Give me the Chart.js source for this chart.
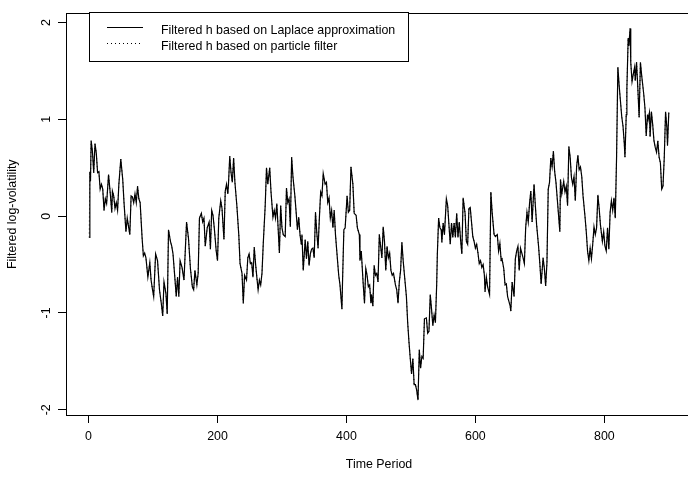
<!DOCTYPE html>
<html>
<head>
<meta charset="utf-8">
<script src="https://cdn.jsdelivr.net/npm/chart.js@4/dist/chart.umd.min.js"></script>
<style>
html, body { margin: 0; padding: 0; background: #fff; overflow: hidden; }
#wrap { width: 700px; height: 481px; }
</style>
</head>
<body>
<div id="wrap"><canvas id="chart" width="700" height="481"></canvas></div>
<script>
// time index of each read vertex
const timePeriod = [
    1, 2, 3, 4, 6, 8, 10, 12, 14, 16,
    18, 20, 22, 24, 26, 28, 31, 34, 36, 37,
    39, 41, 43, 45, 47, 50, 53, 55, 58, 60,
    64, 66, 68, 70, 72, 74, 76, 78, 80, 83,
    85, 87, 89, 92, 95, 97, 99, 101, 104, 107,
    110, 113, 115, 117, 120, 122, 124, 127, 129, 131,
    134, 136, 138, 140, 142, 145, 148, 152, 155, 158,
    161, 163, 165, 168, 170, 172, 175, 177, 179, 181,
    184, 187, 189, 191, 193, 195, 198, 200, 202, 205,
    207, 210, 212, 214, 216, 217, 219, 221, 223, 225,
    227, 230, 233, 235, 238, 240, 242, 245, 247, 249,
    251, 253, 255, 257, 259, 261, 263, 265, 267, 269,
    271, 274, 276, 278, 281, 283, 286, 288, 290, 292,
    294, 296, 298, 300, 302, 305, 307, 309, 311, 313,
    315, 317, 320, 322, 324, 326, 328, 330, 331, 333,
    336, 338, 340, 342, 344, 346, 348, 350, 352, 354,
    356, 358, 360, 362, 364, 367, 369, 371, 373, 375,
    377, 379, 381, 383, 385, 388, 390, 393, 394, 396,
    398, 401, 403, 405, 407, 410, 412, 415, 417, 420,
    421, 423, 426, 428, 430, 432, 434, 436, 438, 439,
    441, 443, 445, 447, 449, 451, 453, 455, 457, 459,
    461, 463, 465, 467, 469, 471, 473, 476, 478, 480,
    482, 484, 486, 488, 490, 493, 495, 497, 499, 501,
    503, 505, 507, 509, 511, 513, 515, 517, 519, 521,
    524, 526, 528, 530, 532, 534, 536, 538, 540, 541,
    543, 545, 547, 548, 550, 552, 555, 557, 559, 561,
    563, 565, 567, 569, 571, 573, 575, 577, 579, 581,
    584, 586, 588, 590, 592, 594, 596, 598, 600, 602,
    604, 606, 608, 610, 612, 614, 615, 617, 619, 622,
    624, 626, 629, 631, 634, 636, 638, 640, 641, 644,
    646, 648, 650, 652, 654, 655, 657, 660, 662, 664,
    666, 668, 670, 672, 674, 676, 678, 680, 682, 684,
    686, 688, 691, 693, 695, 698, 700, 702, 705, 707,
    709, 711, 713, 715, 717, 719, 721, 723, 725, 727,
    729, 731, 732, 734, 737, 739, 741, 743, 745, 747,
    749, 751, 753, 755, 757, 759, 761, 763, 765, 767,
    770, 772, 774, 776, 778, 780, 782, 784, 786, 788,
    790, 792, 794, 797, 799, 801, 803, 805, 807, 809,
    811, 813, 815, 817, 819, 821, 823, 825, 827, 829,
    831, 832, 834, 835, 837, 838, 840, 841, 843, 845,
    847, 848, 850, 852, 854, 856, 858, 861, 863, 865,
    867, 868, 870, 871, 873, 875, 877, 879, 881, 883,
    885, 887, 889, 891, 893, 895, 897, 898, 900
];

// filtered h, Laplace approximation
const laplaceH = [
    -0.22, 0.46, 0.36, 0.78, 0.67, 0.45, 0.75, 0.65, 0.45, 0.46,
    0.28, 0.33, 0.28, 0.06, 0.18, 0.13, 0.43, 0.21, 0.04, 0.26,
    0.21, 0.08, 0.14, 0.06, 0.33, 0.59, 0.38, 0.14, -0.16, -0.02,
    -0.19, 0.21, 0.20, 0.14, 0.23, 0.14, 0.31, 0.18, 0.14, -0.22,
    -0.41, -0.38, -0.43, -0.63, -0.48, -0.66, -0.75, -0.83, -0.39, -0.46,
    -0.76, -0.91, -1.03, -0.68, -0.80, -1.01, -0.14, -0.26, -0.31, -0.39,
    -0.65, -0.83, -0.63, -0.83, -0.46, -0.53, -0.66, -0.06, -0.23, -0.54,
    -0.73, -0.76, -0.56, -0.71, -0.59, -0.02, 0.03, -0.06, -0.02, -0.31,
    -0.12, -0.06, -0.34, 0.06, 0.01, -0.12, -0.36, -0.46, -0.02, 0.16,
    0.08, -0.24, 0.26, 0.33, 0.23, 0.33, 0.62, 0.45, 0.35, 0.60,
    0.35, 0.11, -0.19, -0.49, -0.59, -0.90, -0.61, -0.66, -0.43, -0.39,
    -0.49, -0.48, -0.63, -0.32, -0.49, -0.63, -0.76, -0.66, -0.71, -0.59,
    -0.28, 0.11, 0.50, 0.33, 0.50, 0.25, -0.01, 0.06, -0.02, 0.13,
    -0.12, -0.38, 0.11, -0.12, -0.19, -0.21, 0.29, 0.14, 0.18, -0.11,
    0.61, 0.41, 0.21, 0.04, -0.14, -0.01, -0.19, -0.29, -0.19, -0.56,
    -0.24, -0.44, -0.26, -0.51, -0.39, -0.34, -0.33, -0.43, 0.04, -0.17,
    -0.33, -0.02, 0.25, 0.21, 0.44, 0.33, 0.35, 0.14, 0.19, -0.02,
    0.06, -0.12, 0.06, -0.19, -0.36, -0.61, -0.71, -0.96, -0.66, -0.14,
    -0.12, 0.21, 0.04, 0.06, 0.51, 0.33, 0.03, 0.01, -0.12, -0.19,
    -0.46, -0.36, -0.70, -0.90, -0.54, -0.61, -0.73, -0.71, -0.90, -0.81,
    -0.93, -0.51, -0.61, -0.59, -0.68, -0.19, -0.31, -0.43, -0.11, -0.26,
    -0.56, -0.31, -0.43, -0.38, -0.56, -0.61, -0.59, -0.71, -0.76, -0.90,
    -0.68, -0.56, -0.27, -0.46, -0.61, -0.83, -1.10, -1.30, -1.47, -1.63,
    -1.47, -1.74, -1.74, -1.80, -1.90, -1.38, -1.57, -1.45, -1.47, -1.06,
    -1.05, -1.21, -1.19, -0.81, -0.96, -1.13, -1.02, -1.10, -0.70, -0.39,
    -0.02, -0.12, -0.14, -0.27, -0.07, -0.19, 0.18, 0.11, -0.09, -0.29,
    -0.07, -0.22, -0.07, -0.22, 0.03, -0.22, -0.06, -0.24, -0.39, 0.19,
    0.03, -0.26, -0.29, 0.08, 0.09, -0.06, -0.21, -0.26, -0.33, -0.29,
    -0.38, -0.49, -0.46, -0.53, -0.50, -0.61, -0.78, -0.63, -0.73, -0.81,
    0.25, 0.04, -0.19, -0.21, -0.19, -0.36, -0.28, -0.46, -0.43, -0.54,
    -0.71, -0.70, -0.83, -0.88, -0.93, -0.98, -0.68, -0.83, -0.44, -0.36,
    -0.31, -0.56, -0.33, -0.38, -0.43, -0.49, -0.12, 0.04, -0.06, 0.13,
    0.26, -0.06, 0.33, 0.11, -0.09, -0.31, -0.49, -0.70, -0.43, -0.54,
    -0.72, -0.48, 0.28, 0.35, 0.60, 0.51, 0.67, 0.46, 0.35, 0.18,
    0.01, -0.16, 0.38, 0.23, 0.36, 0.25, 0.31, 0.11, 0.72, 0.61,
    0.40, 0.33, 0.41, 0.16, 0.51, 0.63, 0.48, 0.51, 0.41, 0.21,
    0.00, -0.16, -0.36, -0.46, -0.33, -0.44, -0.29, -0.11, -0.19, -0.12,
    0.22, 0.08, -0.09, -0.26, -0.16, -0.31, -0.36, -0.12, -0.34, 0.04,
    0.16, 0.06, 0.19, -0.02, 0.61, 1.54, 1.35, 1.19, 1.03, 0.93,
    0.75, 0.61, 1.05, 1.32, 1.84, 1.76, 1.94, 1.59, 1.39, 1.47,
    1.54, 1.40, 1.59, 1.32, 1.02, 1.59, 1.45, 1.27, 1.12, 0.83,
    1.05, 1.00, 1.07, 0.82, 1.08, 0.95, 0.78, 0.71, 0.66, 0.78,
    0.61, 0.55, 0.28, 0.31, 0.61, 1.08, 0.92, 0.73, 1.07
];

// the particle filter curve sits on top of the Laplace one in the picture
const particleH = laplaceH;

const seriesLabels = [
    'Filtered h based on Laplace approximation',
    'Filtered h based on particle filter'
];
const xTickValues = [0, 200, 400, 600, 800];
const yTickValues = [-2, -1, 0, 1, 2];

const baseFont = { family: '"Liberation Sans", Arial, Helvetica, sans-serif', size: 12.4 };

function toPoints(ys) {
    return timePeriod.map((t, i) => ({ x: t, y: ys[i] }));
}

// R style box round the plot region plus the legend in the top left
const rFrame = {
    id: 'rFrame',
    afterDraw(c) {
        const ctx = c.ctx;
        const a = c.chartArea;
        ctx.save();
        ctx.strokeStyle = '#000';
        ctx.lineWidth = 1;
        ctx.strokeRect(Math.round(a.left) + 0.5, Math.round(a.top) + 0.5,
            Math.round(a.right - a.left), Math.round(a.bottom - a.top));

        // legend
        ctx.fillStyle = '#fff';
        ctx.fillRect(89, 12, 319, 49);
        ctx.strokeRect(89.5, 12.5, 319, 49);
        ctx.font = baseFont.size + 'px ' + baseFont.family;
        ctx.textBaseline = 'middle';
        ctx.textAlign = 'left';
        c.data.datasets.forEach((ds, i) => {
            const y = 27 + i * 15.7;
            ctx.beginPath();
            ctx.setLineDash(ds.borderDash || []);
            ctx.lineWidth = ds.borderWidth;
            ctx.moveTo(107, Math.round(y) + 0.5);
            ctx.lineTo(143, Math.round(y) + 0.5);
            ctx.stroke();
            ctx.setLineDash([]);
            ctx.fillStyle = '#000';
            ctx.fillText(ds.label, 161, y + 3.5);
        });
        ctx.restore();
    }
};

const ctx = document.getElementById('chart').getContext('2d');

const chart = new Chart(ctx, {
    type: 'line',
    data: {
        datasets: [
            {
                label: seriesLabels[0],
                data: toPoints(laplaceH),
                borderColor: '#000',
                borderWidth: 1.2,
                pointRadius: 0,
                tension: 0,
                fill: false,
            },
            {
                label: seriesLabels[1],
                data: toPoints(particleH),
                borderColor: '#000',
                borderWidth: 1,
                borderDash: [1, 3],
                pointRadius: 0,
                tension: 0,
                fill: false,
            }
        ]
    },
    options: {
        responsive: false,
        animation: false,
        layout: { padding: { left: 0, top: 3, right: 8, bottom: 0 } },
        plugins: {
            legend: { display: false },
            tooltip: { enabled: false },
        },
        scales: {
            x: {
                type: 'linear',
                min: -35,
                max: 936,
                afterBuildTicks: s => { s.ticks = xTickValues.map(v => ({ value: v })); },
                afterFit: s => { s.height = 66; },
                grid: { drawOnChartArea: false, tickLength: 8, color: '#000' },
                border: { display: false },
                ticks: { maxRotation: 0, padding: 6, color: '#000', font: baseFont },
                title: {
                    display: true,
                    text: 'Time Period',
                    color: '#000',
                    font: baseFont,
                    padding: { top: 0, bottom: 9 },
                },
            },
            y: {
                type: 'linear',
                min: -2.054,
                max: 2.095,
                afterBuildTicks: s => { s.ticks = yTickValues.map(v => ({ value: v })); },
                afterFit: s => { s.width = 66; },
                grid: { drawOnChartArea: false, tickLength: 8, color: '#000' },
                border: { display: false },
                ticks: {
                    minRotation: 90,
                    maxRotation: 90,
                    crossAlign: 'center',
                    padding: 6,
                    color: '#000',
                    font: baseFont,
                },
                title: {
                    display: true,
                    text: 'Filtered log-volatility',
                    color: '#000',
                    font: baseFont,
                    padding: { top: 5, bottom: 0 },
                },
            },
        },
    },
    plugins: [rFrame],
});
</script>
</body>
</html>
